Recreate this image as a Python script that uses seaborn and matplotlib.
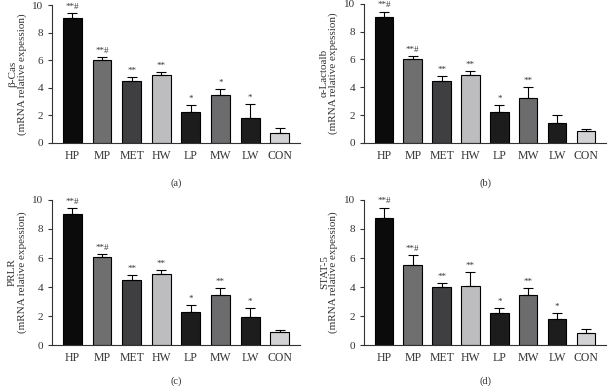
import numpy as np
import pandas as pd
import matplotlib
matplotlib.use("Agg")
import matplotlib.pyplot as plt
import seaborn as sns

sns.set_style("ticks")
plt.rcParams['font.family'] = ['Liberation Serif', 'DejaVu Serif']

# data
groups = ['HP', 'MP', 'MET', 'HW', 'LP', 'MW', 'LW', 'CON']
colors = ['#0b0b0b', '#6f6f70', '#3f3f41', '#bdbdbf', '#1c1c1d', '#6c6c6e', '#1d1d1e', '#d2d2d4']

cas_mean = [9.05, 6.0, 4.45, 4.9, 2.25, 3.45, 1.8, 0.7]
cas_err = [0.4, 0.22, 0.35, 0.25, 0.5, 0.48, 1.02, 0.38]
cas_sig = ['**#', '**#', '**', '**', '*', '*', '*', '']

lac_mean = [9.05, 6.05, 4.45, 4.9, 2.25, 3.25, 1.45, 0.85]
lac_err = [0.4, 0.2, 0.35, 0.25, 0.5, 0.8, 0.55, 0.12]
lac_sig = ['**#', '**#', '**', '**', '*', '**', '', '']

prlr_mean = [9.05, 6.05, 4.45, 4.9, 2.25, 3.45, 1.95, 0.9]
prlr_err = [0.38, 0.2, 0.35, 0.25, 0.5, 0.5, 0.62, 0.12]
prlr_sig = ['**#', '**#', '**', '**', '*', '**', '*', '']

stat_mean = [8.75, 5.55, 4.0, 4.1, 2.2, 3.45, 1.8, 0.8]
stat_err = [0.72, 0.65, 0.3, 0.95, 0.38, 0.5, 0.42, 0.3]
stat_sig = ['**#', '**#', '**', '**', '*', '**', '*', '']

panels = [
    ('β-Cas', cas_mean, cas_err, cas_sig, '(a)'),
    ('α-Lactoalb', lac_mean, lac_err, lac_sig, '(b)'),
    ('PRLR', prlr_mean, prlr_err, prlr_sig, '(c)'),
    ('STAT-5', stat_mean, stat_err, stat_sig, '(d)'),
]

fig = plt.figure(figsize=(6.08, 3.86), dpi=100)
boxes = [
    [0.086, 0.630, 0.408, 0.357],
    [0.599, 0.630, 0.398, 0.360],
    [0.086, 0.106, 0.408, 0.376],
    [0.599, 0.106, 0.398, 0.376],
]
# tag offsets below the axes, in points
tag_off = [-29, -29, -26, -26]

for (name, mean, err, sig, tag), box, off in zip(panels, boxes, tag_off):
    ax = fig.add_axes(box)
    df = pd.DataFrame({'group': groups, 'value': mean})
    sns.barplot(data=df, x='group', y='value', hue='group', palette=colors,
                legend=False, width=0.64, edgecolor='black', linewidth=0.8,
                errorbar=None, ax=ax)
    ax.errorbar(np.arange(len(groups)), mean, yerr=[np.zeros(len(err)), err],
                fmt='none', ecolor='black', elinewidth=0.8, capsize=3.5, capthick=0.8)
    for i, s in enumerate(sig):
        if s:
            ax.text(i, mean[i] + err[i] + 0.15, s, ha='center', va='bottom',
                    fontsize=6.5, color='#333333')
    ax.set_ylim(0, 10)
    ax.set_xlim(-0.68, 7.7)
    ax.set_yticks([0, 2, 4, 6, 8, 10])
    ax.set_xlabel('')
    ax.set_ylabel(name + '\n(mRNA relative expession)', fontsize=8, labelpad=4,
                  linespacing=1.0, color='#333333')
    ax.tick_params(axis='both', labelsize=8.5, colors='#333333', length=3, width=0.8)
    ax.tick_params(axis='y', labelsize=8)
    ax.tick_params(axis='x', length=0, pad=5)
    for sp in ['left', 'bottom']:
        ax.spines[sp].set_linewidth(0.8)
        ax.spines[sp].set_color('#333333')
    sns.despine(ax=ax)
    ax.annotate(tag, xy=(0.5, 0), xycoords='axes fraction', xytext=(0, off),
                textcoords='offset points', ha='center', va='center',
                fontsize=7.5, color='#333333')

fig.savefig('out.png', dpi=100)
